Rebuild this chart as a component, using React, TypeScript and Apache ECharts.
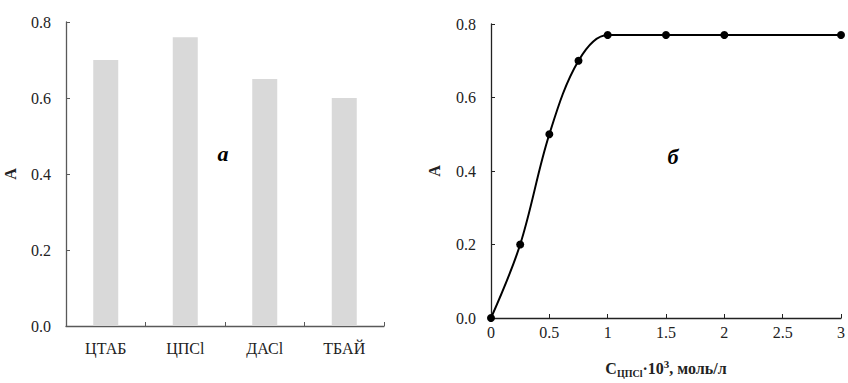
import React, { useEffect, useRef } from "react";
import * as echarts from "echarts";

const barCategories = ["ЦТАБ", "ЦПСl", "ДАСl", "ТБАЙ"];
const barValues = [0.7, 0.76, 0.65, 0.6];

const concX = [0, 0.25, 0.5, 0.75, 1, 1.5, 2, 3];
const absY = [0, 0.2, 0.5, 0.7, 0.77, 0.77, 0.77, 0.77];

const FONT = "Liberation Serif";

export default function App() {
  const ref = useRef<HTMLDivElement>(null);
  useEffect(() => {
    document.body.style.margin = "0";
    const chart = echarts.init(ref.current!, null, { renderer: "svg" });
    const tickLabel = { fontFamily: FONT, fontSize: 16, color: "#222" };
    chart.setOption({
      animation: false,
      backgroundColor: "#fff",
      textStyle: { fontFamily: FONT },
      grid: [
        { left: 66, right: 464, top: 22, bottom: 57 },
        { left: 491, right: 1, top: 24, bottom: 57 },
      ],
      xAxis: [
        {
          type: "category",
          gridIndex: 0,
          data: barCategories,
          axisLine: { lineStyle: { color: "#595959", width: 1.3 } },
          axisTick: { show: true, inside: true, length: 4, lineStyle: { color: "#595959" } },
          axisLabel: { ...tickLabel, margin: 14 },
          splitLine: { show: false },
        },
        {
          type: "value",
          gridIndex: 1,
          min: 0,
          max: 3,
          interval: 0.5,
          axisLine: { show: true, onZero: false, lineStyle: { color: "#222", width: 1.3 } },
          axisTick: { show: true, inside: true, length: 4, lineStyle: { color: "#222" } },
          axisLabel: { ...tickLabel, margin: 6 },
          splitLine: { show: false },
          name: "{c|C}{sub|ЦПСl}{c|·10}{sup|3}{c|, моль/л}",
          nameLocation: "middle",
          nameGap: 40,
          nameTextStyle: {
            rich: {
              c: { fontFamily: FONT, fontSize: 16, fontWeight: "bold", color: "#222", lineHeight: 20, verticalAlign: "middle" },
              sub: { fontFamily: FONT, fontSize: 10, fontWeight: "bold", color: "#222", lineHeight: 10, verticalAlign: "bottom" },
              sup: { fontFamily: FONT, fontSize: 11, fontWeight: "bold", color: "#222", lineHeight: 11, verticalAlign: "top" },
            },
          },
        },
      ],
      yAxis: [
        {
          type: "value",
          gridIndex: 0,
          min: 0,
          max: 0.8,
          interval: 0.2,
          axisLine: { show: true, lineStyle: { color: "#595959", width: 1.3 } },
          axisTick: { show: true, inside: true, length: 4, lineStyle: { color: "#595959" } },
          axisLabel: { ...tickLabel, margin: 15, formatter: (v: number) => v.toFixed(1) },
          splitLine: { show: false },
          name: "A",
          nameLocation: "middle",
          nameGap: 48,
          nameTextStyle: { fontFamily: FONT, fontSize: 16, fontWeight: "bold", color: "#222" },
        },
        {
          type: "value",
          gridIndex: 1,
          min: 0,
          max: 0.8,
          interval: 0.2,
          axisLine: { show: true, lineStyle: { color: "#222", width: 1.3 } },
          axisTick: { show: true, inside: true, length: 4, lineStyle: { color: "#222" } },
          axisLabel: { ...tickLabel, margin: 15, formatter: (v: number) => v.toFixed(1) },
          splitLine: { show: false },
          name: "A",
          nameLocation: "middle",
          nameGap: 49,
          nameTextStyle: { fontFamily: FONT, fontSize: 16, fontWeight: "bold", color: "#222" },
        },
      ],
      series: [
        {
          type: "bar",
          xAxisIndex: 0,
          yAxisIndex: 0,
          data: barValues,
          barWidth: 25,
          itemStyle: { color: "#d9d9d9" },
        },
        {
          type: "line",
          xAxisIndex: 1,
          yAxisIndex: 1,
          data: concX.map((x, i) => [x, absY[i]]),
          smooth: 0.35,
          clip: false,
          symbol: "circle",
          symbolSize: 8,
          itemStyle: { color: "#000" },
          lineStyle: { color: "#000", width: 2 },
        },
      ],
      graphic: [
        {
          type: "text",
          x: 223,
          y: 153,
          style: { text: "a", fontFamily: FONT, fontSize: 22, fontWeight: "bold", fontStyle: "italic", fill: "#000", align: "center", verticalAlign: "middle" },
        },
        {
          type: "text",
          x: 673,
          y: 156,
          style: { text: "б", fontFamily: FONT, fontSize: 22, fontWeight: "bold", fontStyle: "italic", fill: "#000", align: "center", verticalAlign: "middle" },
        },
      ],
    });
    return () => chart.dispose();
  }, []);
  return <div ref={ref} style={{ width: 848, height: 383 }} />;
}
